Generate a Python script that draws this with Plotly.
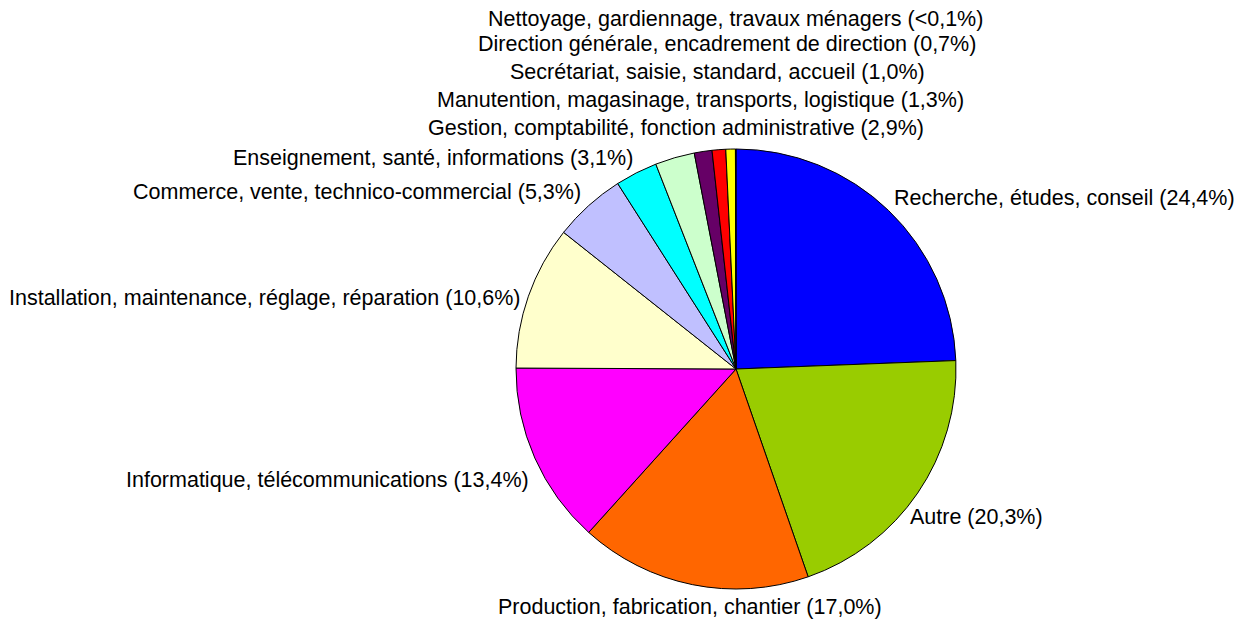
import plotly.graph_objects as go

labels = [
    "Recherche, études, conseil",
    "Autre",
    "Production, fabrication, chantier",
    "Informatique, télécommunications",
    "Installation, maintenance, réglage, réparation",
    "Commerce, vente, technico-commercial",
    "Enseignement, santé, informations",
    "Gestion, comptabilité, fonction administrative",
    "Manutention, magasinage, transports, logistique",
    "Secrétariat, saisie, standard, accueil",
    "Direction générale, encadrement de direction",
    "Nettoyage, gardiennage, travaux ménagers",
]
values = [24.4, 20.3, 17.0, 13.4, 10.6, 5.3, 3.1, 2.9, 1.3, 1.0, 0.7, 0.04]
pct_text = ["24,4%", "20,3%", "17,0%", "13,4%", "10,6%", "5,3%", "3,1%", "2,9%",
            "1,3%", "1,0%", "0,7%", "<0,1%"]
colors = ["#0000FF", "#99CC00", "#FF6600", "#FF00FF", "#FFFFCC", "#C0C0FF",
          "#00FFFF", "#CCFFCC", "#660066", "#FF0000", "#FFFF00", "#000080"]

# label centres (pixels on screen)
label_px = [
    (1064, 198), (976, 517), (690, 607), (327, 480), (265, 298), (357, 192),
    (433, 158), (676, 128), (700, 100), (717, 72), (727, 44), (735, 19),
]

OFF = 8  # page body margin
W, H = 1242 - OFF, 620 - OFF
cx, cy, r = 736 - OFF, 369 - OFF, 220

fig = go.Figure(go.Pie(
    labels=labels,
    values=values,
    sort=False,
    direction="clockwise",
    rotation=0,
    textinfo="none",
    hoverinfo="label+percent",
    marker=dict(colors=colors, line=dict(color="black", width=1)),
    domain=dict(x=[(cx - r) / W, (cx + r) / W], y=[(H - cy - r) / H, (H - cy + r) / H]),
    showlegend=False,
))

for lab, pct, (px_, py_) in zip(labels, pct_text, label_px):
    fig.add_annotation(
        x=(px_ - OFF) / W, y=1 - (py_ - OFF) / H, xref="paper", yref="paper",
        xanchor="center", yanchor="middle", showarrow=False,
        text=f"{lab} ({pct})",
        font=dict(family="Liberation Sans, Arial", size=21.5, color="black"),
    )

fig.update_layout(
    width=W, height=H,
    margin=dict(l=0, r=0, t=0, b=0),
    paper_bgcolor="white",
    plot_bgcolor="white",
)

fig.write_html("out.html")
